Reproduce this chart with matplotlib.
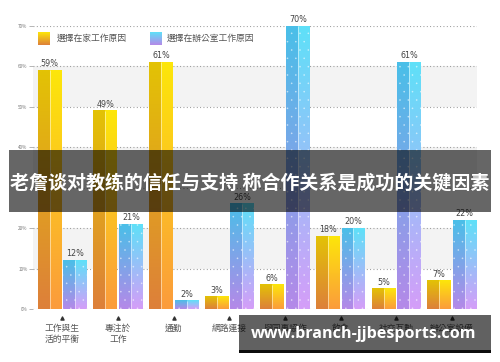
import numpy as np
import matplotlib
matplotlib.use("Agg")
import matplotlib.pyplot as plt
from matplotlib.patches import Rectangle
from matplotlib.colors import to_rgb

plt.rcParams['font.family'] = ['Noto Sans CJK TC', 'DejaVu Sans']
plt.rcParams['hatch.linewidth'] = 0.0

categories = ["工作與生\n活的平衡", "專注於\n工作", "通勤", "網路連接",
              "與同事協作", "飲食", "社交互動", "辦公室設備"]
home_values = [59, 49, 61, 3, 6, 18, 5, 7]
office_values = [12, 21, 2, 26, 70, 20, 61, 22]
legend_labels = ["選擇在家工作原因", "選擇在辦公室工作原因"]
yticks = [0, 10, 20, 30, 40, 50, 60, 70]
title_text = "老詹谈对教练的信任与支持 称合作关系是成功的关键因素"
watermark = "www.branch-jjbesports.com"

W, H = 500, 362
fig = plt.figure(figsize=(W / 100, H / 100), dpi=100)
ax_left, ax_right = 33 / W, 477 / W
ax_bot, ax_top = 1 - 309 / H, 1 - 26 / H
ax = fig.add_axes([ax_left, ax_bot, ax_right - ax_left, ax_top - ax_bot])

x = np.arange(len(categories))
bw = 0.43
off = 0.23

home_grad = {"lt": "#e3c205", "lb": "#dd803a", "rt": "#fde60a", "rb": "#fb9c3c"}
office_grad = {"lt": "#4abfe8", "lb": "#b489e8", "rt": "#5fe0f8", "rb": "#d49ef8"}


def grad_img(top, bot, n=64):
    t = np.linspace(0, 1, n)[:, None]
    a, b = np.array(to_rgb(top)), np.array(to_rgb(bot))
    return (t * a + (1 - t) * b)[:, None, :]


for i in [1, 3, 5]:
    ax.axhspan(yticks[i], yticks[i + 1], color="#f3f3f3", zorder=0, lw=0)

bars_home = ax.bar(x - off, home_values, bw, color="none", zorder=3)
bars_office = ax.bar(x + off, office_values, bw, color="none", zorder=3)

for bars, g, dots in [(bars_home, home_grad, False), (bars_office, office_grad, True)]:
    for p in bars.patches:
        x0, y0, w, h = p.get_x(), p.get_y(), p.get_width(), p.get_height()
        ax.imshow(grad_img(g["lt"], g["lb"]), extent=(x0, x0 + w / 2, y0, y0 + h),
                  origin="lower", aspect="auto", zorder=2, interpolation="bilinear")
        ax.imshow(grad_img(g["rt"], g["rb"]), extent=(x0 + w / 2, x0 + w, y0, y0 + h),
                  origin="lower", aspect="auto", zorder=2, interpolation="bilinear")
        ax.plot([x0 + w / 2, x0 + w / 2], [y0, y0 + h], color="white", lw=0.5,
                alpha=0.7, zorder=4, solid_capstyle="butt")
        if dots:
            ax.add_patch(Rectangle((x0, y0), w, h, facecolor="none",
                                   edgecolor=(1, 1, 1, 0.6), lw=0, hatch="..", zorder=4))

for bars, vals in [(bars_home, home_values), (bars_office, office_values)]:
    ax.bar_label(bars, labels=[f"{v}%" for v in vals], padding=1.5, fontsize=5.8,
                 color="#444444", family=["DejaVu Sans"])

ax.set_xlim(-0.53, 7.45)
ax.set_ylim(0, 70)
ax.set_yticks(yticks)
ax.set_yticklabels([f"{v}%" for v in yticks], fontsize=3.3, color="#777777")
ax.tick_params(axis="y", length=3, width=0.5, color="#999999", pad=1)
ax.grid(axis="y", color="#909090", linestyle=(0, (0.8, 2.2)), linewidth=0.8, zorder=1)
ax.set_axisbelow(True)
ax.set_xticks(x)
ax.set_xticklabels(categories, fontsize=6.3, color="#555555", linespacing=1.2)
ax.tick_params(axis="x", length=0, pad=11)
for s in ax.spines.values():
    s.set_visible(False)

ax.scatter(x, [-0.032] * len(x), marker="^", s=5, color="#333333",
           transform=ax.get_xaxis_transform(), clip_on=False, zorder=5)


def legend_square(px, py, g):
    sa = fig.add_axes([px / W, 1 - (py + 13) / H, 12 / W, 13 / H])
    sa.imshow(grad_img(g["rt"], g["lb"]), origin="lower", aspect="auto",
              extent=(0, 1, 0, 1), interpolation="bilinear")
    sa.set_axis_off()


legend_square(38, 32, home_grad)
fig.text(57 / W, 1 - 38.5 / H, legend_labels[0], fontsize=6.3, color="#555555",
         va="center", ha="left")
legend_square(150, 32, office_grad)
fig.text(167 / W, 1 - 38.5 / H, legend_labels[1], fontsize=6.3, color="#555555",
         va="center", ha="left")

# title banner overlay
fig.patches.append(Rectangle((9 / W, 1 - 212 / H), 482 / W, 62 / H,
                             transform=fig.transFigure, facecolor="black",
                             alpha=0.6, lw=0, zorder=10))
fig.text(250 / W, 1 - 183 / H, title_text, fontsize=13.7, color="white",
         fontweight="bold", ha="center", va="center", zorder=11,
         family=["Noto Sans CJK SC", "DejaVu Sans"])

# watermark overlay
fig.patches.append(Rectangle((239 / W, 1 - 350 / H), 252 / W, 35 / H,
                             transform=fig.transFigure, facecolor="black",
                             alpha=0.62, lw=0, zorder=10))
fig.patches.append(Rectangle((239 / W, 1 - 352.5 / H), 252 / W, 2.5 / H,
                             transform=fig.transFigure, facecolor="black",
                             alpha=0.95, lw=0, zorder=10))
fig.text(364 / W, 1 - 334 / H, watermark, fontsize=11.6, color="white",
         fontweight="bold", ha="center", va="center", zorder=11,
         family=["Open Sans", "DejaVu Sans"])

fig.savefig("out.png", dpi=100)
